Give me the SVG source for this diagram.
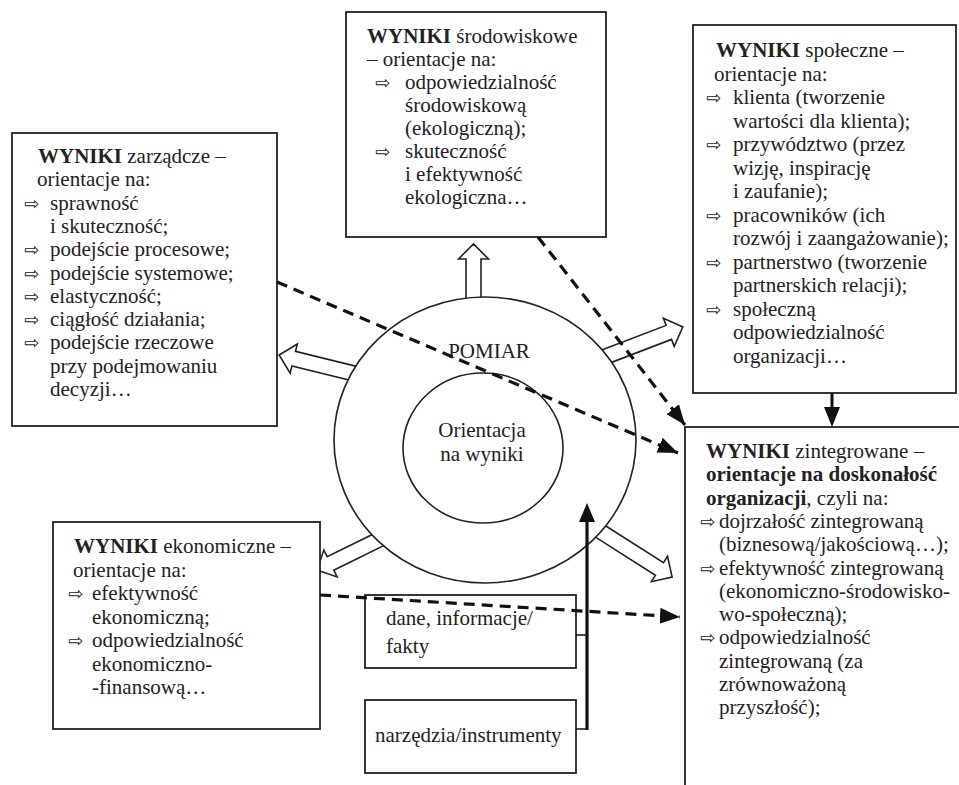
<svg xmlns="http://www.w3.org/2000/svg" width="959" height="785" viewBox="0 0 959 785">
<style>
.box{fill:#fff;stroke:#222;stroke-width:1.8}
.t{font-family:"Liberation Serif","Times New Roman",serif;font-size:21px;fill:#222}
.b{font-weight:bold}
.bl{font-family:"DejaVu Sans",sans-serif;font-size:18px;fill:#222}
.blk{fill:#fff;stroke:#222;stroke-width:1.6;stroke-linejoin:miter}
.dash{fill:none;stroke:#111;stroke-width:3.2;stroke-dasharray:11 7}
.ln{fill:none;stroke:#111}
</style>
<defs>
<marker id="ah" viewBox="0 0 20 16" refX="20" refY="8" markerWidth="20" markerHeight="16" markerUnits="userSpaceOnUse" orient="auto">
<path d="M0,0 L20,8 L0,16 z" fill="#111"/>
</marker>
</defs>
<rect width="959" height="785" fill="#fff"/>

<g id="block-arrows">
<polygon class="blk" transform="translate(473.5,304) rotate(-90)" points="0,-7.5 45,-7.5 45,-15 60,0 45,15 45,7.5 0,7.5"/>
<polygon class="blk" transform="translate(357.8,374.4) rotate(-166.15)" points="0,-7.5 66,-7.5 66,-15 81,0 66,15 66,7.5 0,7.5"/>
<polygon class="blk" transform="translate(604.4,357.1) rotate(-20.98)" points="0,-7.5 69,-7.5 69,-15 84,0 69,15 69,7.5 0,7.5"/>
<polygon class="blk" transform="translate(383.4,537.4) rotate(153.8)" points="0,-7.5 59,-7.5 59,-15 74,0 59,15 59,7.5 0,7.5"/>
<polygon class="blk" transform="translate(597.9,529.8) rotate(32.5)" points="0,-7.5 73,-7.5 73,-15 88,0 73,15 73,7.5 0,7.5"/>
</g>

<g id="pomiar">
<ellipse cx="485" cy="440" rx="151" ry="143" fill="#fff" stroke="#222" stroke-width="1.6"/>
<text class="t" x="489" y="358" text-anchor="middle">POMIAR</text>
</g>
<g id="orientacja">
<ellipse cx="483" cy="448" rx="80" ry="75" fill="#fff" stroke="#222" stroke-width="1.6"/>
<text class="t" x="482" y="437" text-anchor="middle">Orientacja</text>
<text class="t" x="482" y="461" text-anchor="middle">na wyniki</text>
</g>

<g id="wyniki-srodowiskowe">
<rect class="box" x="346" y="12" width="260" height="225"/>
<text class="t" x="367" y="43"><tspan class="b">WYNIKI</tspan> środowiskowe</text>
<text class="t" x="367" y="66">– orientacje na:</text>
<text class="bl" x="375" y="89">⇨</text>
<text class="t" x="405" y="89">odpowiedzialność</text>
<text class="t" x="405" y="112">środowiskową</text>
<text class="t" x="405" y="135">(ekologiczną);</text>
<text class="bl" x="375" y="158">⇨</text>
<text class="t" x="405" y="158">skuteczność</text>
<text class="t" x="405" y="181">i efektywność</text>
<text class="t" x="405" y="204">ekologiczna…</text>
</g>

<g id="wyniki-spoleczne">
<rect class="box" x="693" y="25" width="263" height="368"/>
<text class="t" x="716" y="57"><tspan class="b">WYNIKI</tspan> społeczne –</text>
<text class="t" x="714" y="80.5">orientacje na:</text>
<text class="bl" x="706" y="104">⇨</text>
<text class="t" x="733" y="104">klienta (tworzenie</text>
<text class="t" x="733" y="127.5">wartości dla klienta);</text>
<text class="bl" x="706" y="151">⇨</text>
<text class="t" x="733" y="151">przywództwo (przez</text>
<text class="t" x="733" y="174.5">wizję, inspirację</text>
<text class="t" x="733" y="198">i zaufanie);</text>
<text class="bl" x="706" y="221.5">⇨</text>
<text class="t" x="733" y="221.5">pracowników (ich</text>
<text class="t" x="733" y="245">rozwój i zaangażowanie);</text>
<text class="bl" x="706" y="268.5">⇨</text>
<text class="t" x="733" y="268.5">partnerstwo (tworzenie</text>
<text class="t" x="733" y="292">partnerskich relacji);</text>
<text class="bl" x="706" y="315.5">⇨</text>
<text class="t" x="733" y="315.5">społeczną</text>
<text class="t" x="733" y="339">odpowiedzialność</text>
<text class="t" x="733" y="362.5">organizacji…</text>
</g>

<g id="wyniki-zarzadcze">
<rect class="box" x="12" y="133" width="265" height="293"/>
<text class="t" x="38" y="163"><tspan class="b">WYNIKI</tspan> zarządcze –</text>
<text class="t" x="37" y="186.3">orientacje na:</text>
<text class="bl" x="24" y="209.6">⇨</text>
<text class="t" x="50" y="209.6">sprawność</text>
<text class="t" x="50" y="232.9">i skuteczność;</text>
<text class="bl" x="24" y="256.2">⇨</text>
<text class="t" x="50" y="256.2">podejście procesowe;</text>
<text class="bl" x="24" y="279.5">⇨</text>
<text class="t" x="50" y="279.5">podejście systemowe;</text>
<text class="bl" x="24" y="302.8">⇨</text>
<text class="t" x="50" y="302.8">elastyczność;</text>
<text class="bl" x="24" y="326.1">⇨</text>
<text class="t" x="50" y="326.1">ciągłość działania;</text>
<text class="bl" x="24" y="349.4">⇨</text>
<text class="t" x="50" y="349.4">podejście rzeczowe</text>
<text class="t" x="50" y="372.7">przy podejmowaniu</text>
<text class="t" x="50" y="396">decyzji…</text>
</g>

<g id="wyniki-ekonomiczne">
<rect class="box" x="53" y="522" width="267" height="207"/>
<text class="t" x="74" y="553"><tspan class="b">WYNIKI</tspan> ekonomiczne –</text>
<text class="t" x="73" y="576.5">orientacje na:</text>
<text class="bl" x="68" y="600">⇨</text>
<text class="t" x="92" y="600">efektywność</text>
<text class="t" x="92" y="623.5">ekonomiczną;</text>
<text class="bl" x="68" y="647">⇨</text>
<text class="t" x="92" y="647">odpowiedzialność</text>
<text class="t" x="92" y="670.5">ekonomiczno-</text>
<text class="t" x="92" y="694">-finansową…</text>
</g>

<g id="wyniki-zintegrowane">
<rect class="box" x="685" y="427" width="290" height="380"/>
<text class="t" x="706" y="458"><tspan class="b">WYNIKI</tspan> zintegrowane –</text>
<text class="t b" x="706" y="481.3">orientacje na doskonałość</text>
<text class="t" x="706" y="504.6"><tspan class="b">organizacji</tspan>, czyli na:</text>
<text class="bl" x="700" y="527.9" font-size="16">⇨</text>
<text class="t" x="719" y="527.9">dojrzałość zintegrowaną</text>
<text class="t" x="719" y="551.2">(biznesową/jakościową…);</text>
<text class="bl" x="700" y="574.5" font-size="16">⇨</text>
<text class="t" x="719" y="574.5">efektywność zintegrowaną</text>
<text class="t" x="719" y="597.8">(ekonomiczno-środowisko-</text>
<text class="t" x="719" y="621.1">wo-społeczną);</text>
<text class="bl" x="700" y="644.4" font-size="16">⇨</text>
<text class="t" x="719" y="644.4">odpowiedzialność</text>
<text class="t" x="719" y="667.7">zintegrowaną (za</text>
<text class="t" x="719" y="691">zrównoważoną</text>
<text class="t" x="719" y="714.3">przyszłość);</text>
</g>

<g id="dane">
<rect class="box" x="365" y="595" width="211" height="73"/>
<text class="t" x="386" y="625">dane, informacje/</text>
<text class="t" x="386" y="653">fakty</text>
</g>
<g id="narzedzia">
<rect class="box" x="365" y="700" width="211" height="73"/>
<text class="t" x="375" y="742">narzędzia/instrumenty</text>
</g>

<g id="connectors">
<line class="dash" x1="277" y1="282" x2="678" y2="453" marker-end="url(#ah)"/>
<line class="dash" x1="538" y1="237" x2="685" y2="425" marker-end="url(#ah)"/>
<line class="dash" x1="320" y1="595" x2="680" y2="617" marker-end="url(#ah)"/>
<line class="ln" x1="832" y1="393" x2="832" y2="412" stroke-width="3"/>
<polygon points="824,407 840,407 832,427" fill="#111"/>
<line class="ln" x1="576" y1="635" x2="587" y2="635" stroke-width="1.5"/>
<line class="ln" x1="576" y1="729" x2="588" y2="729" stroke-width="1.5"/>
<line class="ln" x1="587" y1="730" x2="587" y2="515" stroke-width="3.2"/>
<polygon points="587,503 579,522 595,522" fill="#111"/>
</g>
</svg>
